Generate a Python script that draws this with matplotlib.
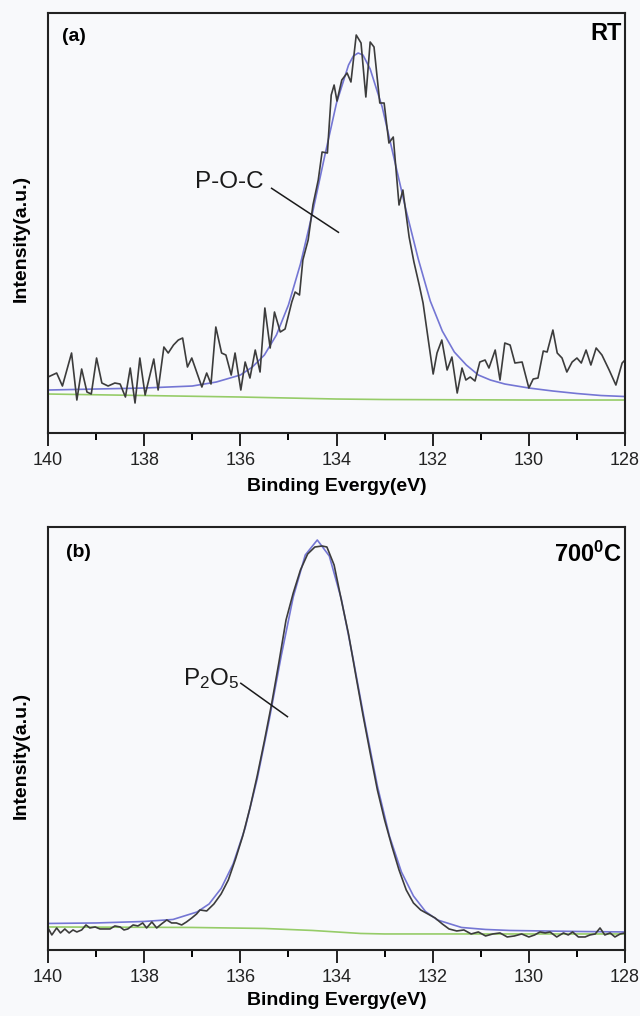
import numpy as np
import matplotlib
matplotlib.use('Agg')
import matplotlib.pyplot as plt
from matplotlib.ticker import MultipleLocator

plt.rcParams['font.family'] = ['Liberation Sans', 'DejaVu Sans']
plt.rcParams['mathtext.fontset'] = 'custom'
plt.rcParams['mathtext.rm'] = 'Liberation Sans'
plt.rcParams['mathtext.bf'] = 'Liberation Sans:bold'

# Panel (a) - RT, raw spectrum
a_raw_x = [140.00, 139.82, 139.70, 139.51, 139.40, 139.30, 139.19, 139.10, 138.99, 138.88,
           138.75, 138.61, 138.50, 138.39, 138.29, 138.19, 138.09, 137.98, 137.80, 137.71,
           137.59, 137.50, 137.39, 137.29, 137.20, 137.10, 137.01, 136.80, 136.70, 136.61,
           136.51, 136.39, 136.30, 136.19, 136.11, 135.99, 135.90, 135.80, 135.69, 135.59,
           135.49, 135.38, 135.29, 135.17, 135.07, 134.93, 134.86, 134.77, 134.70, 134.59,
           134.49, 134.38, 134.30, 134.19, 134.11, 134.05, 133.99, 133.89, 133.78, 133.70,
           133.59, 133.49, 133.39, 133.30, 133.22, 133.10, 133.01, 132.91, 132.82, 132.70,
           132.62, 132.49, 132.39, 132.28, 132.20, 132.10, 131.99, 131.91, 131.81, 131.70,
           131.60, 131.49, 131.39, 131.31, 131.22, 131.12, 131.02, 130.91, 130.83, 130.70,
           130.60, 130.50, 130.39, 130.29, 130.14, 130.00, 129.91, 129.81, 129.70, 129.62,
           129.50, 129.41, 129.31, 129.21, 129.10, 129.00, 128.91, 128.81, 128.71, 128.60,
           128.48, 128.33, 128.19, 128.06, 128.00]
a_raw_y = [56, 60, 47, 80, 33, 64, 41, 39, 75, 50,
           47, 50, 49, 36, 65, 30, 75, 38, 74, 43,
           86, 80, 88, 93, 95, 66, 75, 46, 60, 49,
           106, 80, 78, 58, 80, 43, 71, 55, 83, 61,
           125, 85, 121, 101, 104, 131, 141, 138, 173, 193,
           228, 253, 281, 280, 338, 348, 332, 353, 360, 351,
           398, 390, 336, 391, 386, 330, 330, 290, 296, 228,
           243, 196, 171, 148, 130, 96, 59, 80, 93, 63,
           76, 40, 65, 53, 56, 52, 71, 73, 65, 83,
           53, 90, 88, 70, 71, 45, 54, 55, 82, 81,
           103, 80, 75, 61, 71, 75, 70, 83, 68, 85,
           78, 63, 48, 70, 73]

# Panel (a) - fitted peak and background
a_fit_x = [140.0, 139.0, 138.0, 137.5, 137.0, 136.5, 136.0, 135.75, 135.5, 135.25,
           135.0, 134.75, 134.5, 134.25, 134.0, 133.75, 133.65, 133.55, 133.45, 133.3,
           133.05, 132.8, 132.55, 132.3, 132.05, 131.8, 131.55, 131.3, 131.05, 130.8,
           130.5, 130.0, 129.5, 129.0, 128.5, 128.0]
a_fit_y = [43, 44, 45, 46, 47, 51, 58, 66, 78, 98,
           128, 169, 220, 276, 330, 368, 377, 380, 378, 364,
           326, 274, 222, 174, 132, 102, 81, 68, 58, 53,
           49, 45, 42, 39.5, 37.5, 36.5]
a_bg_x = [140, 138, 136, 135, 134, 133, 130, 128]
a_bg_y = [39, 37.5, 36, 35, 34, 33.5, 33, 33]

# Panel (b) - 700 C, raw spectrum
b_raw_x = [140.00, 139.92, 139.82, 139.74, 139.65, 139.56, 139.48, 139.40, 139.30, 139.21,
           139.13, 139.02, 138.92, 138.71, 138.61, 138.50, 138.42, 138.34, 138.23, 138.13,
           138.03, 137.95, 137.84, 137.74, 137.64, 137.53, 137.43, 137.33, 137.22, 137.12,
           137.01, 136.91, 136.84, 136.70, 136.55, 136.40, 136.25, 136.10, 135.95, 135.80,
           135.65, 135.50, 135.35, 135.20, 135.05, 134.90, 134.75, 134.60, 134.45, 134.30,
           134.20, 134.05, 133.90, 133.75, 133.60, 133.45, 133.30, 133.15, 133.00, 132.85,
           132.70, 132.55, 132.40, 132.25, 132.10, 131.95, 131.80, 131.66, 131.50, 131.35,
           131.20, 131.05, 130.90, 130.75, 130.60, 130.45, 130.30, 130.15, 130.00, 129.88,
           129.77, 129.66, 129.56, 129.42, 129.28, 129.18, 129.09, 128.97, 128.83, 128.73,
           128.62, 128.52, 128.42, 128.31, 128.21, 128.10, 128.00]
b_raw_y = [22, 15, 22, 17, 21, 17, 20, 18, 20, 25,
           22, 23, 21, 21, 24, 23, 20, 21, 25, 24,
           27, 22, 28, 22, 26, 30, 27, 27, 25, 28,
           32, 36, 40, 39, 46, 56, 70, 91, 114, 142,
           174, 209, 246, 287, 330, 357, 380, 396, 403, 404,
           403, 385, 350, 316, 275, 235, 197, 160, 130, 104,
           80, 60, 47, 40, 36, 32, 26, 21, 19, 20,
           16, 18, 14, 16, 17, 13, 14, 16, 13, 15,
           18, 17, 18, 13, 17, 15, 18, 13, 13, 15,
           16, 22, 15, 17, 13, 16, 17]

# Panel (b) - fitted peak and background
b_fit_x = [140.0, 139.0, 138.0, 137.4, 136.9, 136.65, 136.4, 136.15, 135.9, 135.65,
           135.4, 135.15, 134.9, 134.65, 134.4, 134.15, 133.9, 133.65, 133.4, 133.15,
           132.9, 132.65, 132.4, 132.15, 131.9, 131.4, 130.9, 130.4, 129.0, 128.0]
b_fit_y = [26.5, 27, 28.5, 30.5, 38, 46, 61.5, 86, 122, 171,
           230, 294, 353, 395, 410, 394, 351, 290, 225, 164,
           114, 78, 54, 38.5, 30, 22.5, 20.5, 19.5, 18.5, 18]
b_bg_x = [140, 137, 135.5, 134.5, 134, 133.5, 133, 128]
b_bg_y = [23, 22.5, 21.5, 19.5, 18, 16.5, 16, 16]

BG = '#f8f9fb'
RAW_C = '#3c3c3c'
FIT_C = '#7476d4'
BG_C = '#96cc68'

fig = plt.figure(figsize=(6.4, 10.16), dpi=100, facecolor=BG)
ax_a = fig.add_axes([0.075, 0.5738, 0.9016, 0.4134])
ax_b = fig.add_axes([0.075, 0.0650, 0.9016, 0.4163])


def style_axes(ax, ytop):
    ax.set_facecolor(BG)
    ax.set_xlim(140, 128)
    ax.set_ylim(0, ytop)
    ax.set_yticks([])
    ax.xaxis.set_major_locator(MultipleLocator(2))
    ax.xaxis.set_minor_locator(MultipleLocator(1))
    ax.tick_params(axis='x', which='major', direction='out', length=9, width=1.4,
                   pad=5, labelsize=13, colors='#222222')
    ax.tick_params(axis='x', which='minor', direction='out', length=5, width=1.4)
    for sp in ax.spines.values():
        sp.set_linewidth(1.5)
        sp.set_color('#222222')
    ax.set_xlabel('Binding Evergy(eV)', fontsize=14, fontweight='bold')
    ax.set_ylabel('Intensity(a.u.)', fontsize=14, fontweight='bold')


# (a) RT
ax_a.plot(a_bg_x, a_bg_y, color=BG_C, lw=1.2)
ax_a.plot(a_fit_x, a_fit_y, color=FIT_C, lw=1.2)
ax_a.plot(a_raw_x, a_raw_y, color=RAW_C, lw=1.2)
style_axes(ax_a, 420)
ax_a.xaxis.set_label_coords(0.5, -0.108)
ax_a.yaxis.set_label_coords(-0.031, 0.464)
ax_a.text(0.024, 0.943, '(a)', transform=ax_a.transAxes, fontsize=14,
          fontweight='bold', va='center', ha='left')
ax_a.text(0.994, 0.952, 'RT', transform=ax_a.transAxes, fontsize=17,
          fontweight='bold', va='center', ha='right')
ax_a.text(136.94, 251, 'P-O-C', fontsize=17.5, va='center', ha='left', color='#1a1a1a')
ax_a.plot([135.35, 133.96], [244.7, 200.7], color='#1a1a1a', lw=1.1)

# (b) 700 C
ax_b.plot(b_bg_x, b_bg_y, color=BG_C, lw=1.2)
ax_b.plot(b_fit_x, b_fit_y, color=FIT_C, lw=1.2)
ax_b.plot(b_raw_x, b_raw_y, color=RAW_C, lw=1.2)
style_axes(ax_b, 423)
ax_b.xaxis.set_label_coords(0.5, -0.099)
ax_b.yaxis.set_label_coords(-0.031, 0.461)
ax_b.text(0.031, 0.940, '(b)', transform=ax_b.transAxes, fontsize=14,
          fontweight='bold', va='center', ha='left')
ax_b.text(0.994, 0.935, r'$\mathbf{700^{0}C}$', transform=ax_b.transAxes, fontsize=17,
          va='center', ha='right')
ax_b.text(137.19, 265, r'$\mathregular{P_2O_5}$', fontsize=17.5, va='baseline',
          ha='left', color='#1a1a1a')
ax_b.plot([135.99, 135.02], [266.7, 233.3], color='#1a1a1a', lw=1.1)

fig.savefig('out.png', dpi=100, facecolor=BG)
